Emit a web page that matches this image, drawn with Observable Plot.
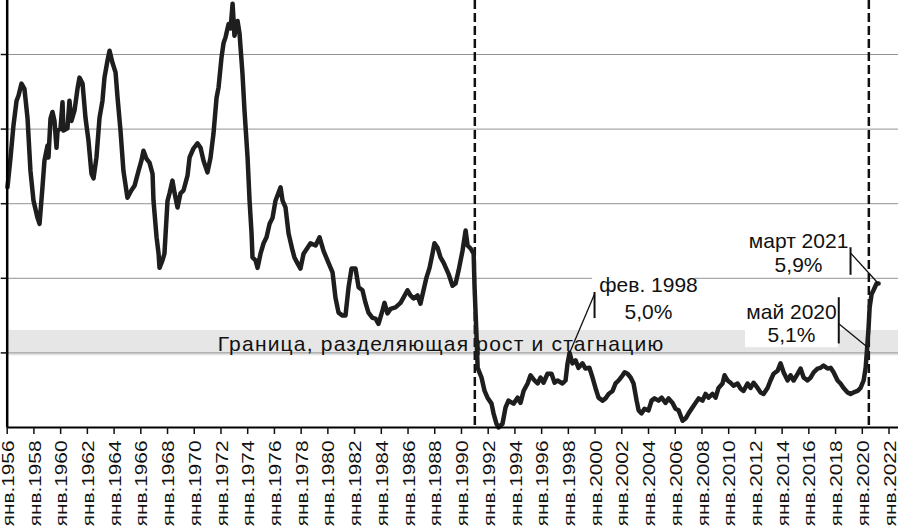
<!DOCTYPE html>
<html><head><meta charset="utf-8">
<script src="https://cdn.jsdelivr.net/npm/d3@7"></script>
<script src="https://cdn.jsdelivr.net/npm/@observablehq/plot@0.6"></script>
<style>html,body{margin:0;padding:0;background:#fff;} #chart{width:898px;height:527px;overflow:hidden}</style>
</head><body><div id="chart"></div>
<script>
// ---- data (decimal years, percent) ----
const years = [
1956.02,1956.25,1956.47,1956.70,1956.85,1957.07,1957.29,1957.52,1957.74,1957.97,
1958.27,1958.42,1958.64,1958.79,1959.02,1959.09,1959.24,1959.39,1959.54,1959.69,
1959.77,1959.99,1960.14,1960.21,1960.51,1960.66,1960.81,1961.04,1961.26,1961.41,
1961.64,1961.86,1962.08,1962.31,1962.46,1962.68,1962.91,1963.13,1963.28,1963.51,
1963.66,1963.88,1964.11,1964.26,1964.48,1964.70,1965.00,1965.30,1965.53,1965.83,
1966.05,1966.20,1966.43,1966.65,1966.88,1966.95,1967.18,1967.33,1967.40,1967.62,
1967.77,1968.00,1968.15,1968.37,1968.52,1968.75,1968.97,1969.20,1969.50,1969.65,
1969.94,1970.24,1970.47,1970.69,1970.99,1971.22,1971.44,1971.67,1971.82,1972.04,
1972.19,1972.34,1972.57,1972.72,1972.87,1973.01,1973.24,1973.39,1973.61,1973.76,
1973.99,1974.14,1974.29,1974.36,1974.59,1974.74,1974.96,1975.19,1975.41,1975.64,
1975.86,1976.08,1976.46,1976.61,1976.83,1977.06,1977.36,1977.50,1977.73,1977.95,
1978.18,1978.48,1978.70,1979.08,1979.38,1979.67,1979.97,1980.35,1980.57,1980.80,
1981.10,1981.32,1981.55,1981.77,1982.07,1982.30,1982.59,1982.82,1983.04,1983.34,
1983.57,1983.79,1984.09,1984.24,1984.46,1984.69,1985.06,1985.44,1985.66,1985.96,
1986.18,1986.41,1986.71,1986.93,1987.16,1987.38,1987.61,1987.83,1987.98,1988.21,
1988.43,1988.66,1989.03,1989.33,1989.56,1989.78,1990.08,1990.31,1990.46,1990.68,
1990.91,1990.98,1991.13,1991.21,1991.50,1991.73,1991.95,1992.25,1992.40,1992.62,
1992.77,1993.07,1993.30,1993.52,1993.90,1994.20,1994.42,1994.65,1994.95,1995.17,
1995.47,1995.70,1995.92,1996.14,1996.44,1996.74,1996.97,1997.19,1997.56,1997.79,
1997.94,1998.09,1998.31,1998.54,1998.76,1999.06,1999.28,1999.58,1999.81,2000.03,
2000.26,2000.56,2000.78,2001.01,2001.31,2001.53,2001.76,2002.06,2002.21,2002.43,
2002.66,2002.88,2003.11,2003.26,2003.48,2003.70,2004.00,2004.23,2004.45,2004.75,
2004.98,2005.27,2005.50,2005.80,2006.02,2006.25,2006.55,2006.77,2007.00,2007.30,
2007.52,2007.75,2008.04,2008.27,2008.49,2008.79,2009.02,2009.24,2009.54,2009.69,
2009.92,2010.14,2010.36,2010.66,2010.89,2011.11,2011.41,2011.64,2011.86,2012.16,
2012.39,2012.61,2012.91,2013.13,2013.36,2013.66,2013.88,2014.11,2014.41,2014.63,
2014.86,2015.16,2015.38,2015.61,2015.90,2016.13,2016.36,2016.65,2016.88,2017.10,
2017.40,2017.63,2017.85,2018.15,2018.37,2018.60,2018.90,2019.12,2019.35,2019.65,
2019.87,2020.10,2020.25,2020.37,2020.47,2020.55,2020.70,2020.84,2021.07,2021.22
];
const values = [
7.22,7.62,8.05,8.38,8.45,8.61,8.54,8.15,7.44,7.04,
6.81,6.73,7.22,7.58,7.78,7.62,8.14,8.23,8.11,7.75,
7.98,8.01,8.36,7.98,8.01,8.38,8.11,8.25,8.54,8.69,
8.61,8.15,7.85,7.40,7.34,7.62,8.15,8.38,8.69,8.92,
9.05,8.89,8.76,8.42,7.98,7.44,7.08,7.18,7.24,7.44,
7.58,7.71,7.60,7.55,7.40,7.04,6.55,6.33,6.14,6.24,
6.33,7.04,7.14,7.31,7.15,6.95,7.14,7.18,7.38,7.62,
7.74,7.81,7.75,7.58,7.42,7.62,7.94,8.42,8.56,8.96,
9.15,9.23,9.41,9.35,9.68,9.25,9.45,9.28,8.74,8.25,
7.62,7.04,6.60,6.28,6.24,6.14,6.33,6.47,6.55,6.73,
6.81,7.04,7.22,7.04,6.95,6.60,6.37,6.28,6.20,6.13,
6.33,6.41,6.47,6.44,6.55,6.37,6.24,6.08,5.74,5.54,
5.50,5.50,5.88,6.13,6.13,5.88,5.84,5.67,5.54,5.47,
5.46,5.39,5.57,5.67,5.53,5.59,5.61,5.67,5.74,5.84,
5.77,5.73,5.77,5.66,5.84,6.01,6.14,6.33,6.47,6.41,
6.28,6.21,6.06,5.90,5.93,6.10,6.37,6.64,6.44,6.40,
6.33,5.88,5.21,4.80,4.67,4.49,4.40,4.32,4.19,4.05,
4.00,4.05,4.27,4.36,4.32,4.40,4.33,4.49,4.59,4.70,
4.63,4.59,4.67,4.60,4.72,4.72,4.60,4.63,4.59,4.63,
4.86,5.00,4.86,4.90,4.80,4.86,4.79,4.80,4.67,4.53,
4.40,4.36,4.39,4.45,4.49,4.59,4.63,4.70,4.74,4.72,
4.67,4.59,4.36,4.23,4.19,4.25,4.23,4.36,4.39,4.36,
4.40,4.33,4.39,4.33,4.25,4.23,4.09,4.12,4.19,4.27,
4.33,4.39,4.36,4.45,4.40,4.45,4.40,4.53,4.59,4.70,
4.63,4.60,4.56,4.59,4.52,4.49,4.59,4.53,4.60,4.53,
4.47,4.45,4.53,4.63,4.72,4.76,4.86,4.74,4.63,4.70,
4.63,4.72,4.79,4.67,4.63,4.67,4.74,4.79,4.80,4.83,
4.79,4.80,4.74,4.63,4.59,4.53,4.47,4.45,4.47,4.49,
4.53,4.63,4.80,5.08,5.34,5.61,5.79,5.84,5.93,5.93
];

const tickYears = d3.range(1956, 2023, 2);
const tickLabels = tickYears.map(y => "янв." + y);
const gridValues = [5, 6, 7, 8, 9];
const bandRange = [4.96, 5.30];
const bandLabel = ["Граница, разделяющая рост и стагнацию"];
const bandLabelX = [1988.47];
const bandLabelY = [5.03];
const breakDates = [1991.0, 2020.49];

// annotation labels
const annText = ["фев. 1998", "5,0%", "май 2020", "5,1%", "март 2021", "5,9%"];
const annX = [2004.0, 2004.0, 2014.7, 2014.7, 2015.23, 2015.23];
const annY = [5.81, 5.46, 5.46, 5.14, 6.41, 6.08];
// leader lines
const barX = [1999.96, 2018.24, 2019.12];
const barTop = [5.81, 5.74, 6.41];
const barBottom = [5.46, 5.12, 6.04];
const leadFromY = [5.79, 5.39, 6.34];
const leadToX = [1998.09, 2020.37, 2021.2];
const leadToY = [5.00, 5.08, 5.93];
// white boxes behind labels
const boxX1 = [1999.8, 2011.26];
const boxX2 = [2007.5, 2018.22];
const boxY1 = [5.40, 5.07];
const boxY2 = [6.10, 5.755];

const series = years.map((x, i) => ({x, y: values[i]}));
const ticks = tickYears.map((x, i) => ({x, label: tickLabels[i]}));
const anns = annText.map((t, i) => ({t, x: annX[i], y: annY[i]}));
const bars = barX.map((x, i) => ({x, y1: barTop[i], y2: barBottom[i]}));
const leads = barX.map((x, i) => ({x1: x, y1: leadFromY[i], x2: leadToX[i], y2: leadToY[i]}));
const boxes = boxX1.map((x1, i) => ({x1, x2: boxX2[i], y1: boxY1[i], y2: boxY2[i]}));
const xDomain = [1956, 2022.71];

const chart = Plot.plot({
  width: 898, height: 527,
  marginLeft: 6.7, marginRight: 0, marginTop: 0, marginBottom: 100,
  x: {domain: xDomain, axis: null},
  y: {domain: [4, 9.724], axis: null},
  style: {fontFamily: "'Liberation Sans', Arial, sans-serif", background: "#fff", color: "#111"},
  marks: [
    Plot.rect([bandRange], {x1: () => xDomain[0], x2: () => xDomain[1], y1: d => d[0], y2: d => d[1], fill: "#e6e6e6"}),
    Plot.ruleY(gridValues, {stroke: "#939393", strokeWidth: 1}),
    Plot.text(bandLabel, {x: () => bandLabelX[0], y: () => bandLabelY[0], text: d => d, fontSize: 21, textAnchor: "middle", lineAnchor: "bottom", fill: "#111"}),
    Plot.rect(boxes, {x1: "x1", x2: "x2", y1: "y1", y2: "y2", fill: "#fff"}),
    Plot.ruleX(breakDates, {stroke: "#111", strokeWidth: 2.5, strokeDasharray: "9,4"}),
    Plot.line(series, {x: "x", y: "y", stroke: "#1e1e1e", strokeWidth: 4.5, strokeLinejoin: "round"}),
    Plot.ruleX(bars, {x: "x", y1: "y1", y2: "y2", stroke: "#111", strokeWidth: 2}),
    Plot.link(leads, {x1: "x1", y1: "y1", x2: "x2", y2: "y2", stroke: "#111", strokeWidth: 1.3}),
    Plot.text(anns, {x: "x", y: "y", text: "t", fontSize: 21, textAnchor: "middle", lineAnchor: "bottom", fill: "#111"}),
    Plot.ruleX([xDomain[0]], {stroke: "#000", strokeWidth: 2.5}),
    Plot.ruleY([4], {stroke: "#000", strokeWidth: 2}),
    Plot.axisY({ticks: gridValues, tickSize: 6, tickFormat: () => "", anchor: "left", strokeWidth: 1.5, label: null}),
    Plot.axisX({ticks: tickYears, tickSize: 7, tickFormat: () => "", anchor: "bottom", strokeWidth: 1.5, label: null}),
    Plot.text(ticks, {x: "x", frameAnchor: "bottom", text: "label", rotate: -90, textAnchor: "end", lineAnchor: "middle", dy: 13, dx: 1.5, fontSize: 16, fill: "#111"})
  ]
});

const labelSet = new Set(tickLabels);
d3.select(chart).selectAll("text").each(function() {
  const t = this.textContent;
  if (labelSet.has(t)) {
    this.setAttribute("transform", (this.getAttribute("transform") || "") + " scale(1.3,1)");
  } else if (t === bandLabel[0]) {
    this.style.letterSpacing = "1.2px";
  }
});

document.getElementById("chart").appendChild(chart);
</script>
</body></html>
